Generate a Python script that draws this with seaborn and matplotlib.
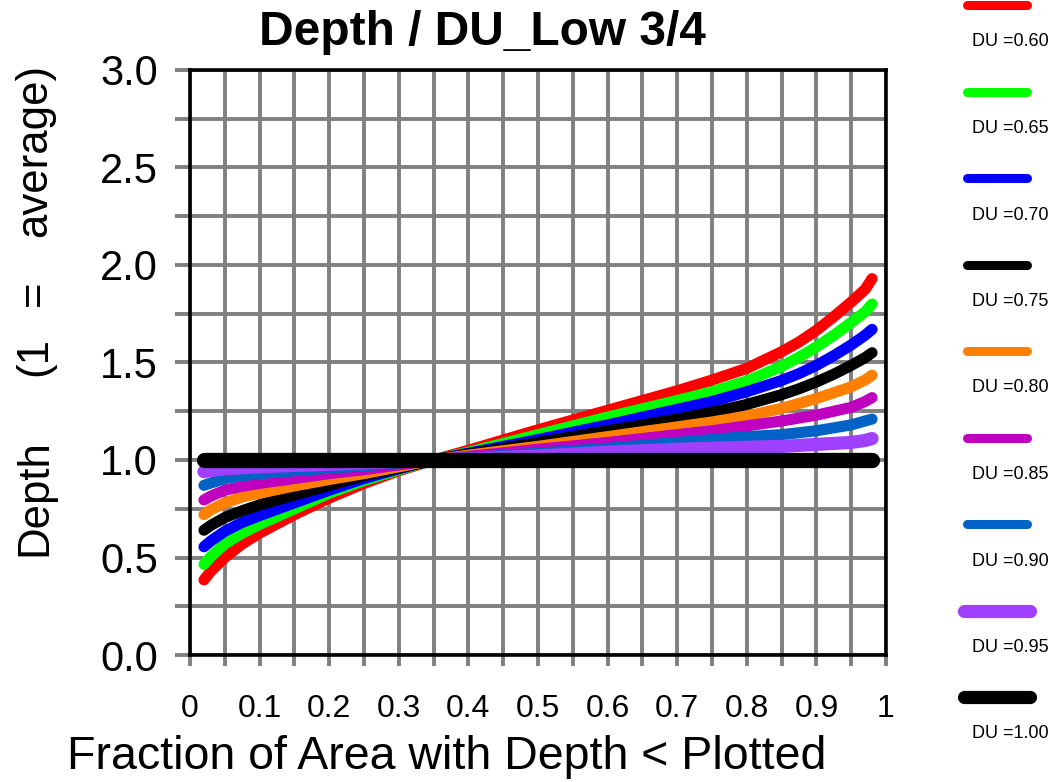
import numpy as np
import seaborn as sns
import matplotlib.pyplot as plt
from matplotlib.lines import Line2D

# fraction of area (x) and relative depth for each DU curve
frac = [0.02, 0.03, 0.05, 0.075, 0.1, 0.15, 0.2, 0.25, 0.3, 0.35, 0.4, 0.5,
        0.6, 0.7, 0.75, 0.8, 0.85, 0.875, 0.9, 0.925, 0.95, 0.97, 0.98]
du_060 = [0.385, 0.43, 0.50, 0.57, 0.625, 0.72, 0.805, 0.88, 0.945, 1.0, 1.05, 1.155,
          1.255, 1.355, 1.41, 1.47, 1.555, 1.605, 1.665, 1.735, 1.81, 1.875, 1.93]
du_065 = [0.465, 0.505, 0.57, 0.625, 0.67, 0.75, 0.83, 0.895, 0.95, 1.0, 1.04, 1.13,
          1.22, 1.305, 1.35, 1.405, 1.48, 1.527, 1.58, 1.64, 1.705, 1.76, 1.80]
du_070 = [0.555, 0.585, 0.635, 0.68, 0.715, 0.78, 0.845, 0.905, 0.955, 1.0, 1.035, 1.105,
          1.18, 1.26, 1.30, 1.35, 1.408, 1.443, 1.485, 1.535, 1.59, 1.64, 1.67]
du_075 = [0.64, 0.665, 0.705, 0.74, 0.77, 0.82, 0.87, 0.92, 0.96, 1.0, 1.03, 1.09,
          1.15, 1.21, 1.245, 1.285, 1.335, 1.365, 1.40, 1.44, 1.485, 1.525, 1.55]
du_080 = [0.72, 0.745, 0.78, 0.81, 0.83, 0.867, 0.90, 0.93, 0.965, 1.0, 1.025, 1.07,
          1.12, 1.17, 1.195, 1.225, 1.265, 1.29, 1.315, 1.345, 1.375, 1.41, 1.435]
du_085 = [0.795, 0.815, 0.845, 0.865, 0.88, 0.905, 0.93, 0.95, 0.975, 1.0, 1.018, 1.055,
          1.09, 1.13, 1.15, 1.175, 1.20, 1.215, 1.23, 1.25, 1.27, 1.30, 1.32]
du_090 = [0.87, 0.882, 0.905, 0.92, 0.93, 0.945, 0.958, 0.97, 0.985, 1.0, 1.012, 1.035,
          1.06, 1.09, 1.105, 1.12, 1.13, 1.14, 1.15, 1.165, 1.18, 1.20, 1.21]
du_095 = [0.94, 0.947, 0.955, 0.96, 0.965, 0.972, 0.978, 0.985, 0.993, 1.0, 1.006, 1.02,
          1.04, 1.055, 1.06, 1.065, 1.07, 1.075, 1.08, 1.085, 1.09, 1.10, 1.11]
du_100 = [1.0, 1.0, 1.0, 1.0, 1.0, 1.0, 1.0, 1.0, 1.0, 1.0, 1.0, 1.0,
          1.0, 1.0, 1.0, 1.0, 1.0, 1.0, 1.0, 1.0, 1.0, 1.0, 1.0]

du_labels = ["DU =0.60", "DU =0.65", "DU =0.70", "DU =0.75", "DU =0.80",
             "DU =0.85", "DU =0.90", "DU =0.95", "DU =1.00"]
du_colors = ["#ff0000", "#00ff00", "#0000ff", "#000000", "#ff8000",
             "#bf00bf", "#0062c4", "#9f40ff", "#000000"]
xtick_labels = ["0", "", "0.1", "", "0.2", "", "0.3", "", "0.4", "", "0.5",
                "", "0.6", "", "0.7", "", "0.8", "", "0.9", "", "1"]
ytick_labels = ["0.0", "", "0.5", "", "1.0", "", "1.5", "", "2.0", "", "2.5", "", "3.0"]

sns.set_theme(style="white")
plt.rcParams['font.family'] = ['Liberation Sans', 'DejaVu Sans']
plt.rcParams['text.color'] = 'black'
plt.rcParams['xtick.labelcolor'] = 'black'
plt.rcParams['ytick.labelcolor'] = 'black'

fig = plt.figure(figsize=(10.57, 7.82), dpi=100)
ax = fig.add_axes([0.1798, 0.1624, 0.6584, 0.7481])

curves = [du_060, du_065, du_070, du_075, du_080, du_085, du_090, du_095, du_100]
widths = [8.0, 8.0, 8.0, 8.0, 8.0, 8.0, 8.0, 9.5, 11]
for vals, col, lw in zip(curves, du_colors, widths):
    sns.lineplot(x=frac, y=vals, color=col, linewidth=lw, ax=ax,
                 solid_capstyle='round', solid_joinstyle='round')

ax.set_xlim(0, 1)
ax.set_ylim(0, 3)
ax.set_xticks(np.linspace(0, 1, 21))
ax.set_xticklabels(xtick_labels)
ax.set_yticks(np.linspace(0, 3, 13))
ax.set_yticklabels(ytick_labels)
ax.grid(True, color='#808080', linewidth=2.8)
ax.set_axisbelow(True)
ax.tick_params(axis='both', direction='out', color='#808080', width=2.8,
               bottom=True, left=True)
ax.tick_params(axis='x', length=8, pad=20, labelsize=23)
ax.tick_params(axis='y', length=11, pad=12, labelsize=30)
for s in ax.spines.values():
    s.set_visible(True)
    s.set_color('black')
    s.set_linewidth(2.6)

fig.text(0.456, 0.958, "Depth / DU_Low 3/4", ha='center', va='center',
         fontsize=34.5, fontweight='bold')
fig.text(0.423, 0.032, "Fraction of Area with Depth < Plotted", ha='center',
         va='center', fontsize=33.5)

# y label is widely spaced in the original, so its parts are set one by one
for part, py in [("Depth", 498), ("(1", 357), ("=", 293), ("average)", 150)]:
    fig.text(0.033, 1 - py / 782, part, ha='center', va='center',
             rotation=90, fontsize=31.5)

# legend on the right: line sample with the label underneath
for i, (lab, col) in enumerate(zip(du_labels, du_colors)):
    py = 5 + 86.5 * i
    big = i >= 7
    x0, x1 = (964, 1030) if big else (967, 1027)
    fig.add_artist(Line2D([x0 / 1057, x1 / 1057], [1 - py / 782, 1 - py / 782],
                          transform=fig.transFigure, color=col,
                          linewidth=9.5 if big else 6.5, solid_capstyle='round'))
    fig.text(972 / 1057, 1 - (py + 37) / 782, lab, ha='left', va='center',
             fontsize=13)

fig.savefig("out.png", dpi=100)
